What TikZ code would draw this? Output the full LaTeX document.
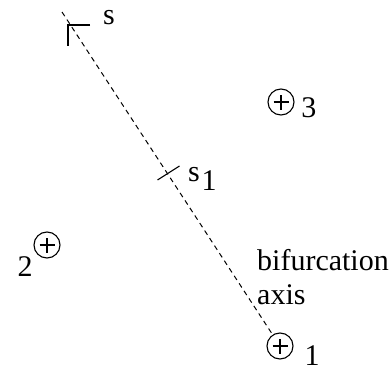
\documentclass[tikz,border=0pt]{standalone}
\usepackage{fontspec}
\setmainfont{Liberation Serif}
\begin{document}
\begin{tikzpicture}[x=1pt,y=-1pt,
  charge/.style={circle,draw,line width=1.1pt,minimum size=26pt,inner sep=0pt,
    path picture={\draw[line width=1.6pt] ([xshift=-7.5pt]path picture bounding box.center) -- ([xshift=7.5pt]path picture bounding box.center)
      ([yshift=-7.5pt]path picture bounding box.center) -- ([yshift=7.5pt]path picture bounding box.center);}},
  lab/.style={inner sep=0pt,font=\fontsize{30}{34}\selectfont},
  axisline/.style={line width=1pt,dash pattern=on 5pt off 4pt},
  tick/.style={line width=1.1pt}]
\useasboundingbox (0,0) rectangle (392,372);
\node[charge] (c1) at (280,346) {};
\node[charge] (c2) at (47,245) {};
\node[charge] (c3) at (281,102) {};
\coordinate (top) at (62,12);
\draw[axisline] (top) -- (c1);
% tick at s
\coordinate (sc) at (68,25);
\draw[tick] ([xshift=22pt]sc) -- (sc) -- ([yshift=-21pt]sc);
% tick at s1
\coordinate (s1c) at (168.5,173);
\draw[tick] ([xshift=-11pt,yshift=-7pt]s1c) -- ([xshift=11pt,yshift=7pt]s1c);
\node[lab] (ls) at (109,18) {s};
\node[lab] (ls1) at (194,175) {s};
\node[lab] (ls1i) at (209,181) {1};
\node[lab] (l3) at (309,108) {3};
\node[lab] (l2) at (25,267) {2};
\node[lab] (l1) at (312,356) {1};
\node[lab,anchor=base west] (bif) at (257,270) {bifurcation};
\node[lab,anchor=base west] (ax) at (257,304) {axis};
\end{tikzpicture}
\end{document}
